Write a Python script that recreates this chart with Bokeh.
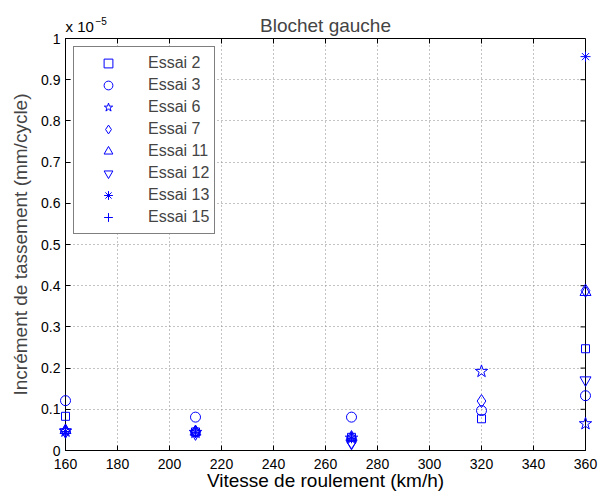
import numpy as np
from bokeh.plotting import figure
from bokeh.models import Range1d, FixedTicker, Legend, LegendItem
from bokeh.core.properties import value
from bokeh.embed import file_html
from bokeh.resources import INLINE

nan = float("nan")

# ---- data (units of 1e-5 mm/cycle) ----
vitesse = [160, 210, 270, 320, 360]
essai_2 = [0.083, 0.045, 0.032, 0.077, 0.247]
essai_3 = [0.121, 0.081, 0.081, 0.097, 0.133]
essai_6 = [0.047, 0.044, 0.030, 0.192, 0.065]
essai_7 = [0.047, 0.046, 0.020, 0.120, 0.388]
essai_11 = [0.049, 0.045, 0.033, nan, 0.384]
essai_12 = [0.045, 0.040, 0.017, nan, 0.171]
essai_13 = [0.046, 0.043, 0.030, nan, 0.956]
essai_15 = [0.046, 0.043, 0.030, nan, nan]

series_names = ["Essai 2", "Essai 3", "Essai 6", "Essai 7", "Essai 11", "Essai 12", "Essai 13", "Essai 15"]
series_values = [essai_2, essai_3, essai_6, essai_7, essai_11, essai_12, essai_13, essai_15]
series_markers = ["square", "circle", "star", "diamond", "triangle", "inverted_triangle", "asterisk", "cross"]
series_sizes = [8, 10, 13, 13, 11, 11, 10, 10]

x_ticks = [160, 180, 200, 220, 240, 260, 280, 300, 320, 340, 360]
y_ticks = [0, 0.1, 0.2, 0.3, 0.4, 0.5, 0.6, 0.7, 0.8, 0.9, 1]

x_title = "Vitesse de roulement (km/h)"
y_title = "Incrément de tassement (mm/cycle)"

FONT = "Liberation Sans"
BLUE = "#0000ff"

W, H = 600, 492
BL, BR, BT, BB = 65, 15, 38, 42

p = figure(width=W, height=H, output_backend="svg", toolbar_location=None,
           x_range=Range1d(160, 360), y_range=Range1d(0, 1),
           min_border_left=BL, min_border_right=BR, min_border_top=BT, min_border_bottom=BB,
           title="Blochet gauche")
p.background_fill_color = "white"
p.border_fill_color = "white"
p.outline_line_color = "black"
p.outline_line_width = 1

p.title.text_font = FONT
p.title.text_font_size = "19px"
p.title.text_font_style = "normal"
p.title.align = "center"
p.title.standoff = 5

def style_axis(ax):
    ax.major_tick_in = 5
    ax.major_tick_out = 0
    ax.minor_tick_in = 0
    ax.minor_tick_out = 0
    ax.axis_line_color = "black"
    ax.major_tick_line_color = "black"
    ax.major_label_text_font = FONT
    ax.major_label_text_color = "black"
    ax.major_label_text_font_size = "14px"

xa = p.xaxis[0]
xa.ticker = FixedTicker(ticks=x_ticks)
style_axis(xa)
xa.major_label_standoff = 8

ya = p.yaxis[0]
ya.ticker = FixedTicker(ticks=y_ticks)
style_axis(ya)
ya.major_label_standoff = 5
ya.major_label_overrides = {0: "0", 1: "1"}
ya.axis_label = y_title
ya.axis_label_text_font = FONT
ya.axis_label_text_font_size = "19px"
ya.axis_label_text_font_style = "normal"
ya.axis_label_standoff = 7

p.xgrid.ticker = FixedTicker(ticks=x_ticks)
p.ygrid.ticker = FixedTicker(ticks=y_ticks)
for g in (p.xgrid, p.ygrid):
    g.grid_line_color = "#888888"
    g.grid_line_dash = "1 3"
    g.grid_line_width = 1

# inner ticks on top and right edges (MATLAB box style), derived from tick lists
fw = W - BL - BR
fh = H - BT - BB
tick_len_y = 5.0 / fh * (y_ticks[-1] - y_ticks[0])
tick_len_x = 5.0 / fw * (x_ticks[-1] - x_ticks[0])
xt = np.array(x_ticks, dtype=float)
yt = np.array(y_ticks, dtype=float)
p.segment(x0=xt, y0=np.full(len(xt), y_ticks[-1]), x1=xt, y1=np.full(len(xt), y_ticks[-1] - tick_len_y),
          line_color="black", line_width=1)
p.segment(x0=np.full(len(yt), x_ticks[-1]), y0=yt, x1=np.full(len(yt), x_ticks[-1] - tick_len_x), y1=yt,
          line_color="black", line_width=1)

items = []
for name, vals, mk, sz in zip(series_names, series_values, series_markers, series_sizes):
    r = p.scatter(np.array(vitesse, dtype=float), np.array(vals, dtype=float), marker=mk, size=sz,
                  line_color=BLUE, fill_color=None, line_width=1, level="overlay")
    items.append(LegendItem(label=name, renderers=[r]))

legend = Legend(items=items, location="top_left", margin=8, padding=5, spacing=0,
                glyph_width=58, glyph_height=22, label_height=22, label_standoff=11,
                label_text_font=FONT, label_text_font_size="16px",
                border_line_color="black", border_line_width=1,
                background_fill_color="white", background_fill_alpha=1)
p.add_layout(legend)

# x axis title, placed below the tick labels
p.text(x=[(x_ticks[0] + x_ticks[-1]) / 2], y=[y_ticks[0]], text=[x_title], text_font=value(FONT),
       text_font_size="19px", text_baseline="middle", text_align="center", y_offset=30,
       text_color="black", level="overlay")

# exponent note "x 10^-5" above the top-left corner
p.text(x=[x_ticks[0]], y=[y_ticks[-1]], text=["x 10"], text_font=value(FONT), text_font_size="15px",
       text_baseline="bottom", text_align="left", x_offset=0, y_offset=-4, text_color="black", level="overlay")
p.text(x=[x_ticks[0]], y=[y_ticks[-1]], text=["\u22125"], text_font=value(FONT), text_font_size="10px",
       text_baseline="bottom", text_align="left", x_offset=30, y_offset=-14, text_color="black", level="overlay")

open("out.html", "w").write(file_html(p, INLINE))
